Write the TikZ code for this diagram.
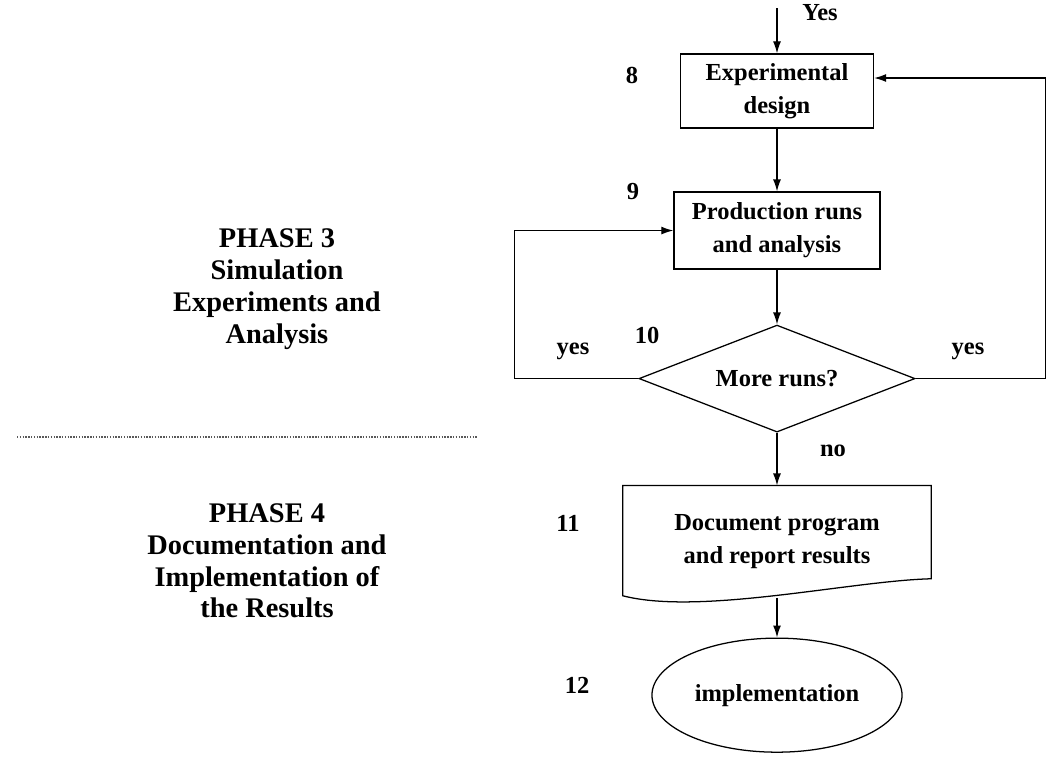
\documentclass[tikz,border=0pt]{standalone}
\usepackage{fontspec}
\setmainfont{Liberation Serif}
\usetikzlibrary{shapes.geometric, positioning, calc, arrows.meta}

\begin{document}
\begin{tikzpicture}[x=0.025cm, y=-0.025cm, on grid,
    font=\bfseries\fontsize{17.4}{23.5}\selectfont,
    line width=0.9pt, >={Latex[length=3mm, width=2mm]},
    box/.style={draw, rectangle, align=center, minimum width=4.825cm, minimum height=1.85cm},
    decision/.style={draw, diamond, aspect=2.6, minimum width=6.9cm, minimum height=2.675cm, inner sep=0pt},
    docnode/.style={rectangle, align=center, minimum width=7.675cm, minimum height=2.75cm},
    terminal/.style={draw, ellipse, minimum width=6.25cm, minimum height=2.85cm},
    phase/.style={align=center, font=\bfseries\fontsize{20.2}{22.6}\selectfont}]
  \useasboundingbox[fill=white] (0,0) rectangle (1054,758);

  \node[box] (e8) at (777,91) {Experimental\\design};
  \node[box, minimum width=5.15cm, minimum height=1.925cm] (p9) [below=3.4875cm of e8] {Production runs\\and analysis};
  \node[decision] (d10) [below=3.7cm of p9] {More runs?};
  \node[docnode] (d11) [below=4.0625cm of d10] {Document program\\and report results};
  \node[terminal] (i12) [below=3.85cm of d11] {implementation};

  % document outline with wavy bottom
  \draw (d11.north west) -- (d11.north east) -- ($(d11.south east)+(0,-18)$)
    .. controls ($(d11.south east)+(-80,-16)$) and ($(d11.south west)+(77,19)$) .. ($(d11.south west)+(0,-1)$)
    -- cycle;

  \coordinate (in8) at (777,8);
  \coordinate (out11) at ($(d11.south)+(0,1)$);

  \draw[->] (in8) -- (e8.north);
  \draw[->] (e8.south) -- (p9.north);
  \draw[->] (p9.south) -- (d10.north);
  \draw[->] (d10.south) -- (d11.north);
  \draw[->] (out11) -- (i12.north);
  \draw[->] (d10.west) -- ++(-124,0) |- (p9.west);
  \draw[->] (d10.east) -- ++(130,0) |- ($(e8.east)+(0,-13)$);

  \node (yestop) at (820,13) {Yes};
  \node (yesl) at (573,351) {yes};
  \node (yesr) at (968,351) {yes};
  \node (no) at (833,451) {no};

  \node (n8) at (632,75) {8};
  \node (n9) at (633,192) {9};
  \node (n10) at (647,335) {10};
  \node (n11) at (568,523) {11};
  \node (n12) at (577,685) {12};

  \node[phase] (ph3) at (277,289) {PHASE 3\\Simulation\\Experiments and\\Analysis};
  \node[phase] (ph4) at (267,561) {PHASE 4\\Documentation and\\Implementation of\\the Results};

  \draw[densely dotted, gray!70!black, line width=1pt] (17,437) -- (478,437);
\end{tikzpicture}
\end{document}
